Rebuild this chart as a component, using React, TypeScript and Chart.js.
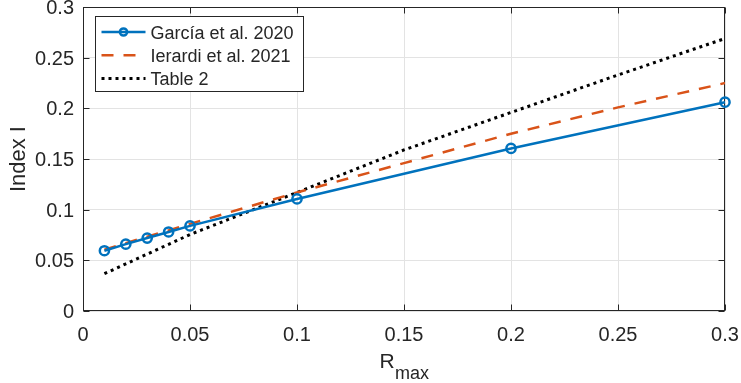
import React, { useEffect, useRef } from "react";
import { Chart, registerables } from "chart.js";

Chart.register(...registerables);

// ---- data ----
const xTicks = [0, 0.05, 0.1, 0.15, 0.2, 0.25, 0.3];
const xTickLabels = ["0", "0.05", "0.1", "0.15", "0.2", "0.25", "0.3"];
const yTicks = [0, 0.05, 0.1, 0.15, 0.2, 0.25, 0.3];
const yTickLabels = ["0", "0.05", "0.1", "0.15", "0.2", "0.25", "0.3"];

const rGarcia = [0.01, 0.02, 0.03, 0.04, 0.05, 0.1, 0.2, 0.3];
const iGarcia = [0.0595, 0.066, 0.072, 0.078, 0.084, 0.1106, 0.1605, 0.2061];

const rCurves = [0.01, 0.02, 0.03, 0.04, 0.05, 0.1, 0.15, 0.2, 0.25, 0.3];
const iIerardi = [0.0605, 0.067, 0.0733, 0.0795, 0.086, 0.117, 0.146, 0.175, 0.201, 0.225];
const iTable2 = [0.0368, 0.0465, 0.0562, 0.0658, 0.0755, 0.117, 0.159, 0.196, 0.233, 0.269];

const seriesNames = ["García et al. 2020", "Ierardi et al. 2021", "Table 2"];
const yTitle = "Index I";
const xTitleMain = "R";
const xTitleSub = "max";

const AXIS = "#262626";
const FONT = '"Liberation Sans", Arial, Helvetica, sans-serif';

const toXY = (xs: number[], ys: number[]) => xs.map((x, i) => ({ x, y: ys[i] }));

const decorPlugin = {
  id: "matlabDecor",
  beforeDatasetsDraw(chart: any) {
    const { ctx, chartArea: ca, scales } = chart;
    const xs = scales.x;
    const ys = scales.y;
    ctx.save();
    // box
    ctx.strokeStyle = AXIS;
    ctx.lineWidth = 1;
    const L = Math.round(ca.left) + 0.5;
    const R = Math.round(ca.right) - 0.5;
    const T = Math.round(ca.top) + 0.5;
    const B = Math.round(ca.bottom) - 0.5;
    ctx.strokeRect(L, T, R - L, B - T);
    // inward ticks
    const tl = 6;
    ctx.beginPath();
    xTicks.forEach((v) => {
      const px = Math.round(xs.getPixelForValue(v)) + 0.5;
      ctx.moveTo(px, B);
      ctx.lineTo(px, B - tl);
      ctx.moveTo(px, T);
      ctx.lineTo(px, T + tl);
    });
    yTicks.forEach((v) => {
      const py = Math.round(ys.getPixelForValue(v)) + 0.5;
      ctx.moveTo(L, py);
      ctx.lineTo(L + tl, py);
      ctx.moveTo(R, py);
      ctx.lineTo(R - tl, py);
    });
    ctx.stroke();
    ctx.restore();
  },
  afterDraw(chart: any) {
    const { ctx, chartArea: ca, scales } = chart;
    const xs = scales.x;
    const ys = scales.y;
    ctx.save();
    ctx.fillStyle = AXIS;
    // tick labels
    ctx.font = `20px ${FONT}`;
    ctx.textBaseline = "alphabetic";
    ctx.textAlign = "center";
    xTicks.forEach((v, i) => {
      ctx.fillText(xTickLabels[i], xs.getPixelForValue(v), ca.bottom + 29.5);
    });
    ctx.textAlign = "right";
    yTicks.forEach((v, i) => {
      ctx.fillText(yTickLabels[i], ca.left - 9, ys.getPixelForValue(v) + 7);
    });

    // y title
    ctx.save();
    ctx.font = `22px ${FONT}`;
    ctx.textAlign = "center";
    ctx.textBaseline = "alphabetic";
    ctx.translate(25, (ca.top + ca.bottom) / 2);
    ctx.rotate(-Math.PI / 2);
    ctx.fillText(yTitle, 0, 0);
    ctx.restore();

    // x title with subscript
    ctx.textAlign = "left";
    ctx.font = `21px ${FONT}`;
    const wR = ctx.measureText(xTitleMain).width;
    ctx.font = `18px ${FONT}`;
    const wS = ctx.measureText(xTitleSub).width;
    const cx = (ca.left + ca.right) / 2;
    const sx = cx - (wR + wS) / 2;
    ctx.font = `21px ${FONT}`;
    ctx.fillText(xTitleMain, sx, ca.bottom + 56.5);
    ctx.font = `18px ${FONT}`;
    ctx.fillText(xTitleSub, sx + wR + 0.5, ca.bottom + 67.5);

    // legend
    const lx = Math.round(ca.left + 12) + 0.5;
    const ly = Math.round(ca.top + 9) + 0.5;
    const lw = 208;
    const lh = 75;
    ctx.fillStyle = "#ffffff";
    ctx.fillRect(lx, ly, lw, lh);
    ctx.strokeStyle = AXIS;
    ctx.lineWidth = 1;
    ctx.strokeRect(lx, ly, lw, lh);
    chart.data.datasets.forEach((ds: any, i: number) => {
      const rowY = ly + 15.5 + 23.2 * i;
      const x0 = lx + 6;
      const x1 = lx + 50;
      ctx.save();
      ctx.strokeStyle = ds.borderColor;
      ctx.lineWidth = ds.borderWidth;
      ctx.lineCap = "butt";
      ctx.setLineDash(ds.borderDash || []);
      ctx.beginPath();
      ctx.moveTo(x0, rowY);
      ctx.lineTo(x1, rowY);
      ctx.stroke();
      ctx.setLineDash([]);
      if (ds.pointRadius > 0) {
        ctx.lineWidth = ds.pointBorderWidth;
        ctx.beginPath();
        ctx.arc((x0 + x1) / 2, rowY, ds.pointRadius - 1, 0, Math.PI * 2);
        ctx.stroke();
      }
      ctx.restore();
      ctx.fillStyle = AXIS;
      ctx.font = `18px ${FONT}`;
      ctx.textAlign = "left";
      ctx.textBaseline = "alphabetic";
      ctx.fillText(ds.label, lx + 55, rowY + 6.5);
    });
    ctx.restore();
  },
};

export default function App() {
  const ref = useRef<HTMLCanvasElement | null>(null);
  useEffect(() => {
    if (!ref.current) return;
    const chart = new Chart(ref.current, {
      type: "line",
      data: {
        datasets: [
          {
            label: seriesNames[0],
            data: toXY(rGarcia, iGarcia),
            borderColor: "#0072BD",
            borderWidth: 2.5,
            pointRadius: 4.6,
            pointBorderWidth: 2.5,
            pointBackgroundColor: "rgba(0,0,0,0)",
            pointBorderColor: "#0072BD",
            fill: false,
            tension: 0,
            clip: false,
          } as any,
          {
            label: seriesNames[1],
            data: toXY(rCurves, iIerardi),
            borderColor: "#D95319",
            borderWidth: 2.5,
            borderDash: [12, 10],
            pointRadius: 0,
            fill: false,
            tension: 0,
          } as any,
          {
            label: seriesNames[2],
            data: toXY(rCurves, iTable2),
            borderColor: "#000000",
            borderWidth: 3,
            borderDash: [3, 4],
            pointRadius: 0,
            fill: false,
            tension: 0,
          } as any,
        ],
      },
      options: {
        responsive: false,
        animation: false,
        devicePixelRatio: 1,
        layout: { padding: { left: 0, top: 6, right: 16, bottom: 0 } },
        plugins: {
          legend: { display: false },
          tooltip: { enabled: false },
        },
        scales: {
          x: {
            type: "linear",
            min: 0,
            max: 0.3,
            afterBuildTicks: (s: any) => {
              s.ticks = xTicks.map((v) => ({ value: v }));
            },
            afterFit: (s: any) => {
              s.height = 72;
            },
            ticks: { display: false },
            grid: { color: "#e3e3e3", lineWidth: 1, drawTicks: false },
            border: { display: false },
          },
          y: {
            type: "linear",
            min: 0,
            max: 0.3,
            afterBuildTicks: (s: any) => {
              s.ticks = yTicks.map((v) => ({ value: v }));
            },
            afterFit: (s: any) => {
              s.width = 83;
            },
            ticks: { display: false },
            grid: { color: "#e3e3e3", lineWidth: 1, drawTicks: false },
            border: { display: false },
          },
        },
      } as any,
      plugins: [decorPlugin],
    });
    return () => chart.destroy();
  }, []);
  return (
    <div style={{ position: "absolute", left: 0, top: 0, width: 741, height: 383, background: "#fff" }}>
      <canvas ref={ref} width={741} height={383} style={{ display: "block" }} />
    </div>
  );
}
